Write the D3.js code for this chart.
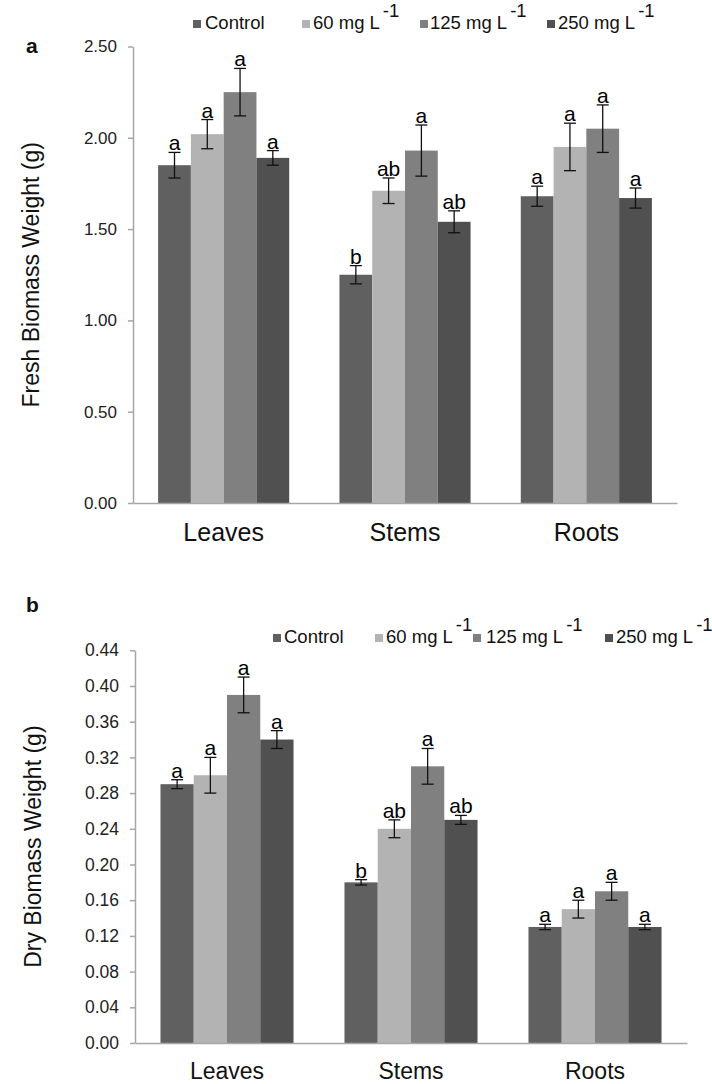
<!DOCTYPE html>
<html>
<head>
<meta charset="utf-8">
<script src="https://cdn.jsdelivr.net/npm/d3@7"></script>
<style>
  body { margin: 0; background: #fff; }
  svg { display: block; font-family: "Liberation Sans", Arial, sans-serif; }
</style>
</head>
<body>
<svg id="chart" width="712" height="1084"></svg>
<script>
// Plant organs and treatments
const categories = ["Leaves", "Stems", "Roots"];
const seriesNames = ["Control", "60 mg L", "125 mg L", "250 mg L"];
const seriesSup = ["", "-1", "-1", "-1"];
const seriesColors = ["#606060", "#b3b3b3", "#808080", "#505050"];

// Fresh biomass (g): means, standard errors, significance letters
const freshControl = [1.85, 1.25, 1.68];
const fresh60 = [2.02, 1.71, 1.95];
const fresh125 = [2.25, 1.93, 2.05];
const fresh250 = [1.89, 1.54, 1.67];
const freshErrControl = [0.07, 0.05, 0.055];
const freshErr60 = [0.08, 0.07, 0.13];
const freshErr125 = [0.13, 0.14, 0.13];
const freshErr250 = [0.04, 0.06, 0.055];
const freshLetters = [["a", "b", "a"], ["a", "ab", "a"], ["a", "a", "a"], ["a", "ab", "a"]];
const freshTicks = [0, 0.5, 1.0, 1.5, 2.0, 2.5];

// Dry biomass (g)
const dryControl = [0.29, 0.18, 0.13];
const dry60 = [0.30, 0.24, 0.15];
const dry125 = [0.39, 0.31, 0.17];
const dry250 = [0.34, 0.25, 0.13];
const dryErrControl = [0.005, 0.003, 0.003];
const dryErr60 = [0.02, 0.01, 0.01];
const dryErr125 = [0.02, 0.02, 0.01];
const dryErr250 = [0.01, 0.005, 0.003];
const dryLetters = [["a", "b", "a"], ["a", "ab", "a"], ["a", "a", "a"], ["a", "ab", "a"]];
const dryTicks = [0, 0.04, 0.08, 0.12, 0.16, 0.20, 0.24, 0.28, 0.32, 0.36, 0.40, 0.44];

const svg = d3.select("#chart");

function drawPanel(cfg) {
  const g = svg.append("g");
  const x = d3.scaleBand().domain(categories)
    .range([cfg.left, cfg.right]).paddingInner(0.277).paddingOuter(0.1385);
  const xs = d3.scaleBand().domain(d3.range(seriesNames.length))
    .range([0, x.bandwidth()]).padding(0);
  const y = d3.scaleLinear().domain([0, cfg.max]).range([cfg.bottom, cfg.top]);

  // bars
  cfg.values.forEach((vals, si) => {
    g.selectAll(null).data(categories).enter().append("rect")
      .attr("x", c => x(c) + xs(si))
      .attr("y", (c, i) => y(vals[i]))
      .attr("width", xs.bandwidth())
      .attr("height", (c, i) => y(0) - y(vals[i]))
      .attr("fill", seriesColors[si]);
  });

  // error bars and letters
  cfg.values.forEach((vals, si) => {
    const errs = cfg.errors[si];
    categories.forEach((c, i) => {
      const cx = x(c) + xs(si) + xs.bandwidth() / 2;
      const hi = y(vals[i] + errs[i]), lo = y(vals[i] - errs[i]);
      g.append("line").attr("x1", cx).attr("x2", cx).attr("y1", hi).attr("y2", lo)
        .attr("stroke", "#111").attr("stroke-width", 1.3);
      [hi, lo].forEach(yy => g.append("line")
        .attr("x1", cx - 6).attr("x2", cx + 6).attr("y1", yy).attr("y2", yy)
        .attr("stroke", "#111").attr("stroke-width", 1.3));
      g.append("text").attr("x", cx).attr("y", hi - 2)
        .attr("text-anchor", "middle").attr("font-size", 21).attr("fill", "#000")
        .text(cfg.letters[si][i]);
    });
  });

  // y axis
  const yAxis = g.append("g").attr("transform", `translate(${cfg.left},0)`)
    .call(d3.axisLeft(y).tickValues(cfg.ticks).tickFormat(d3.format(".2f"))
      .tickSize(5).tickPadding(11).tickSizeOuter(0));
  yAxis.select(".domain").attr("stroke", "#a6a6a6").attr("stroke-width", 1.5);
  yAxis.selectAll(".tick line").attr("stroke", "#a6a6a6").attr("stroke-width", 1.5);
  yAxis.selectAll(".tick text").attr("font-size", cfg.tickSize).attr("fill", "#222")
    .attr("font-family", '"Liberation Sans", Arial, sans-serif');

  // x axis
  const xAxis = g.append("g").attr("transform", `translate(0,${cfg.bottom})`)
    .call(d3.axisBottom(x).tickSize(0).tickPadding(cfg.catPad));
  xAxis.select(".domain").attr("stroke", "#a6a6a6").attr("stroke-width", 1.5);
  xAxis.selectAll(".tick text").attr("font-size", cfg.catSize).attr("fill", "#111")
    .attr("font-family", '"Liberation Sans", Arial, sans-serif');

  // y title
  g.append("text")
    .attr("transform", `translate(${cfg.titleX},${(cfg.top + cfg.bottom) / 2}) rotate(-90)`)
    .attr("text-anchor", "middle").attr("font-size", 23).attr("fill", "#111")
    .text(cfg.title);

  // panel letter
  g.append("text").attr("x", cfg.tagX).attr("y", cfg.tagY)
    .attr("font-size", 21).attr("font-weight", "bold").attr("fill", "#111").text(cfg.tag);

  // legend
  const leg = g.append("g");
  seriesNames.forEach((name, si) => {
    leg.append("rect").attr("x", cfg.legendSq[si]).attr("y", cfg.legendY - 9)
      .attr("width", 8).attr("height", 8).attr("fill", seriesColors[si]);
    const t = leg.append("text").attr("x", cfg.legendTx[si]).attr("y", cfg.legendY)
      .attr("font-size", 18.5).attr("fill", "#111").text(name);
    if (seriesSup[si]) {
      t.append("tspan").attr("dx", 3).attr("dy", -12).text(seriesSup[si]);
    }
  });
}

drawPanel({
  left: 133, right: 677, top: 46.5, bottom: 503, max: 2.5,
  values: [freshControl, fresh60, fresh125, fresh250],
  errors: [freshErrControl, freshErr60, freshErr125, freshErr250],
  letters: freshLetters, ticks: freshTicks,
  tickSize: 17, catSize: 25, catPad: 20,
  title: "Fresh Biomass Weight (g)", titleX: 39,
  tag: "a", tagX: 26, tagY: 53,
  legendY: 29, legendSq: [193, 302, 420, 547], legendTx: [205, 313, 430, 558]
});

drawPanel({
  left: 135, right: 687, top: 650.3, bottom: 1043, max: 0.44,
  values: [dryControl, dry60, dry125, dry250],
  errors: [dryErrControl, dryErr60, dryErr125, dryErr250],
  letters: dryLetters, ticks: dryTicks,
  tickSize: 17.5, catSize: 23, catPad: 20,
  title: "Dry Biomass Weight (g)", titleX: 41,
  tag: "b", tagX: 26, tagY: 612,
  legendY: 643, legendSq: [273, 375, 473, 605], legendTx: [284, 386, 486, 616]
});
</script>
</body>
</html>
